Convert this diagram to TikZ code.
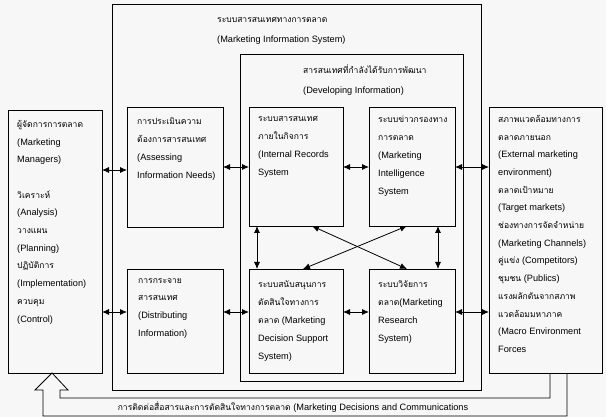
\documentclass[tikz,border=0pt]{standalone}
\usepackage{fontspec}
\setmainfont{Liberation Sans}
\newfontfamily\thaifont[Script=Thai, Scale=0.93]{Loma}
\newcommand{\thtxt}[1]{{\thaifont #1}}
\usepackage{tikz}
\usetikzlibrary{arrows.meta, positioning, calc}
\tikzset{
    misbox/.style={rectangle, draw=black, line width=0.8pt, inner sep=0pt, outer sep=0pt},
    mistext/.style={anchor=north west, align=left, inner sep=0pt, font=\fontsize{9.2}{18}\selectfont, execute at begin node=\rule{0pt}{8pt}},
    mislist/.style={mistext, font=\fontsize{9.2}{17.7}\selectfont},
    mistitle/.style={mistext, font=\fontsize{9.2}{20}\selectfont},
    misarrow/.style={{Latex[length=7pt,width=6pt]}-{Latex[length=7pt,width=6pt]}, line width=0.8pt},
    misfeed/.style={line width=0.8pt, line join=miter}
}

\begin{document}
\begin{tikzpicture}[x=1pt, y=-1pt]
    \fill[black!3] (0,0) rectangle (606,417);
    \useasboundingbox (0,0) rectangle (606,417);

    % Boxes
    \node[misbox, minimum width=94, minimum height=263] (mgr) at (55,241.5) {};
    \node[misbox, minimum width=369, minimum height=386] (mis) at (296.5,197) {};
    \node[misbox, minimum width=223, minimum height=327] (dev) at (351.5,217.5) {};
    \node[misbox, minimum width=96, minimum height=120] (assess) at (175,167) {};
    \node[misbox, minimum width=96, minimum height=104] (distrib) at (175,321) {};
    \node[misbox, minimum width=94, minimum height=119] (internal) at (296,166.5) {};
    \node[misbox, minimum width=86, minimum height=119] (intel) at (412,166.5) {};
    \node[misbox, minimum width=94, minimum height=104] (decision) at (296,321) {};
    \node[misbox, minimum width=86, minimum height=104] (research) at (412,321) {};
    \node[misbox, minimum width=113, minimum height=266] (env) at (545.5,240) {};

    % Texts
    \node[mistitle] (mistxt) at (217,17) {\thtxt{ระบบสารสนเทศทางการตลาด}\\(Marketing Information System)};
    \node[mistitle] (devtxt) at (303,65) {\thtxt{สารสนเทศที่กำลังได้รับการพัฒนา}\\(Developing Information)};
    \node[mislist] (mgrtxt) at (17,120) {\thtxt{ผู้จัดการการตลาด}\\(Marketing\\Managers)\\ \mbox{}\\\thtxt{วิเคราะห์}\\(Analysis)\\\thtxt{วางแผน}\\(Planning)\\\thtxt{ปฏิบัติการ}\\(Implementation)\\\thtxt{ควบคุม}\\(Control)};
    \node[mistext] (assesstxt) at (137,117) {\thtxt{การประเมินความ}\\\thtxt{ต้องการสารสนเทศ}\\(Assessing\\Information Needs)};
    \node[mistext] (distribtxt) at (138,278) {\thtxt{การกระจาย}\\\thtxt{สารสนเทศ}\\(Distributing\\Information)};
    \node[mistext] (internaltxt) at (258,116) {\thtxt{ระบบสารสนเทศ}\\\thtxt{ภายในกิจการ}\\(Internal Records\\System};
    \node[mistext] (inteltxt) at (378,116) {\thtxt{ระบบข่าวกรองทาง}\\\thtxt{การตลาด}\\(Marketing\\Intelligence\\System};
    \node[mistext] (decisiontxt) at (258,280) {\thtxt{ระบบสนับสนุนการ}\\\thtxt{ตัดสินใจทางการ}\\\thtxt{ตลาด} (Marketing\\Decision Support\\System)};
    \node[mistext] (researchtxt) at (378,280) {\thtxt{ระบบวิจัยการ}\\\thtxt{ตลาด}(Marketing\\Research\\System)};
    \node[mislist] (envtxt) at (498,115) {\thtxt{สภาพแวดล้อมทางการ}\\\thtxt{ตลาดภายนอก}\\(External marketing\\environment)\\\thtxt{ตลาดเป้าหมาย}\\(Target markets)\\\thtxt{ช่องทางการจัดจำหน่าย}\\(Marketing Channels)\\\thtxt{คู่แข่ง} (Competitors)\\\thtxt{ชุมชน} (Publics)\\\thtxt{แรงผลักดันจากสภาพ}\\\thtxt{แวดล้อมมหาภาค}\\(Macro Environment\\Forces};

    % Flows between boxes
    \draw[misarrow] (mgr.east |- 0,170) -- (assess.west |- 0,170);
    \draw[misarrow] (assess.east |- 0,167) -- (internal.west |- 0,167);
    \draw[misarrow] (internal.east |- 0,167) -- (intel.west |- 0,167);
    \draw[misarrow] (intel.east |- 0,167) -- (env.west |- 0,167);
    \draw[misarrow] (mgr.east |- 0,312) -- (distrib.west |- 0,312);
    \draw[misarrow] (distrib.east |- 0,312) -- (decision.west |- 0,312);
    \draw[misarrow] (decision.east |- 0,312) -- (research.west |- 0,312);
    \draw[misarrow] (research.east |- 0,312) -- (env.west |- 0,312);
    \draw[misarrow] (internal.south -| 257,0) -- (decision.north -| 257,0);
    \draw[misarrow] (intel.south -| 438,0) -- (research.north -| 438,0);
    \draw[misarrow] ([xshift=16pt]internal.south) -- ([xshift=-5pt]research.north);
    \draw[misarrow] ([xshift=-5pt]intel.south) -- ([xshift=7pt]decision.north);

    % Feedback
    \draw[misfeed] ([xshift=21.5pt]env.south) |- (43,416) -- (43,390) -- (35,390)
        -- (mgr.south -| 52,0) -- (68,390) -- (60,390) |- (550,398) -- ([xshift=4.5pt]env.south);
    \node[font=\fontsize{9.2}{9}\selectfont, inner sep=0pt] (fbtxt) at (293,407.5) {\thtxt{การติดต่อสื่อสารและการตัดสินใจทางการตลาด} (Marketing Decisions and Communications};
\end{tikzpicture}
\end{document}
